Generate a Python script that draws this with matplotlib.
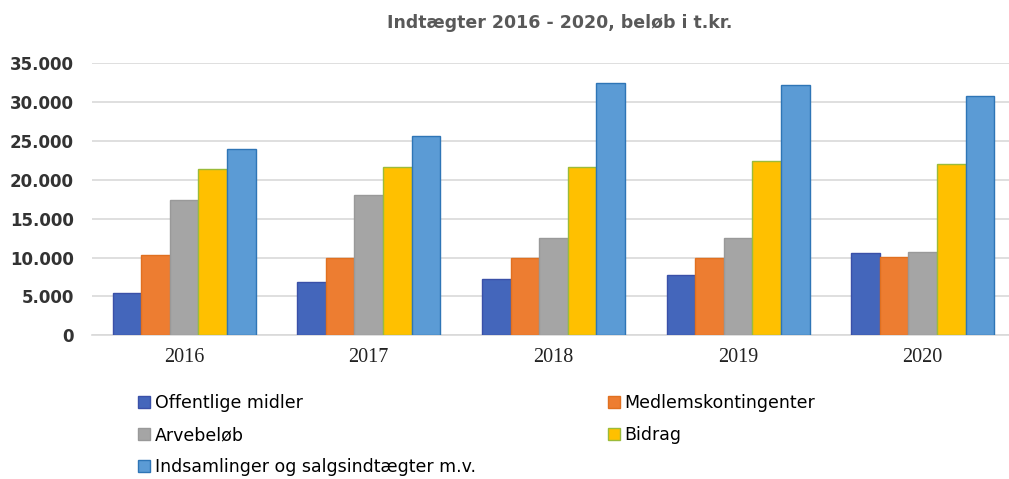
import numpy as np
import matplotlib
matplotlib.use("Agg")
import matplotlib.pyplot as plt
from matplotlib.ticker import FuncFormatter

# data (t.kr.)
years = ["2016", "2017", "2018", "2019", "2020"]
series_names = ["Offentlige midler", "Medlemskontingenter", "Arvebeløb", "Bidrag",
                "Indsamlinger og salgsindtægter m.v."]
offentlige = [5400, 6900, 7300, 7700, 10600]
medlem = [10300, 10000, 10000, 10000, 10100]
arv = [17400, 18000, 12500, 12500, 10700]
bidrag = [21400, 21700, 21700, 22400, 22000]
indsamlinger = [24000, 25600, 32400, 32200, 30800]

values = [offentlige, medlem, arv, bidrag, indsamlinger]
colors = ["#4466bb", "#ed7d31", "#a5a5a5", "#ffc000", "#5b9bd5"]
edges = ["#3a50a8", "#e07020", "#999999", "#9bbb3a", "#2e75b6"]

fig = plt.figure(figsize=(10.09, 4.79), dpi=100)
ax = fig.add_axes([0.091, 0.30, 0.915, 0.568])

x = np.arange(len(years))
bw = 0.155
for i, (vals, c, e, name) in enumerate(zip(values, colors, edges, series_names)):
    ax.bar(x + (i - 2) * bw, vals, bw, color=c, edgecolor=e, linewidth=1.0,
           label=name, zorder=3)

ax.set_xlim(-0.5, 4.5)
ax.set_ylim(0, 35000)
ax.set_yticks(np.arange(0, 35001, 5000))
ax.yaxis.set_major_formatter(FuncFormatter(lambda v, p: f"{int(v):,}".replace(",", ".")))
ax.grid(axis="y", color="#d9d9d9", linewidth=1.2, zorder=0)
for s in ["top", "right", "left"]:
    ax.spines[s].set_visible(False)
ax.spines["bottom"].set_color("#d9d9d9")
ax.spines["bottom"].set_linewidth(1.2)
ax.tick_params(axis="both", length=0)
ax.tick_params(axis="y", pad=13)
ax.tick_params(axis="x", pad=9)
ax.set_xticks(x)
ax.set_xticklabels(years, family="Liberation Serif", fontsize=14.5, color="#222222")
for lbl in ax.get_yticklabels():
    lbl.set_fontsize(12)
    lbl.set_fontweight("bold")
    lbl.set_color("#333333")

fig.suptitle("Indtægter 2016 - 2020, beløb i t.kr.", x=0.555, y=0.97,
             fontsize=12.5, fontweight="bold", color="#595959")

handles, labels = ax.get_legend_handles_labels()
order = [0, 2, 4, 1, 3]
fig.legend([handles[k] for k in order], [labels[k] for k in order],
           loc="upper left", bbox_to_anchor=(0.13, 0.192), ncol=2, frameon=False,
           prop={"size": 12.5},
           handlelength=0.7, handleheight=0.7, handletextpad=0.25,
           columnspacing=7.6, labelspacing=0.82, borderaxespad=0)

fig.savefig("out.png", dpi=100)
